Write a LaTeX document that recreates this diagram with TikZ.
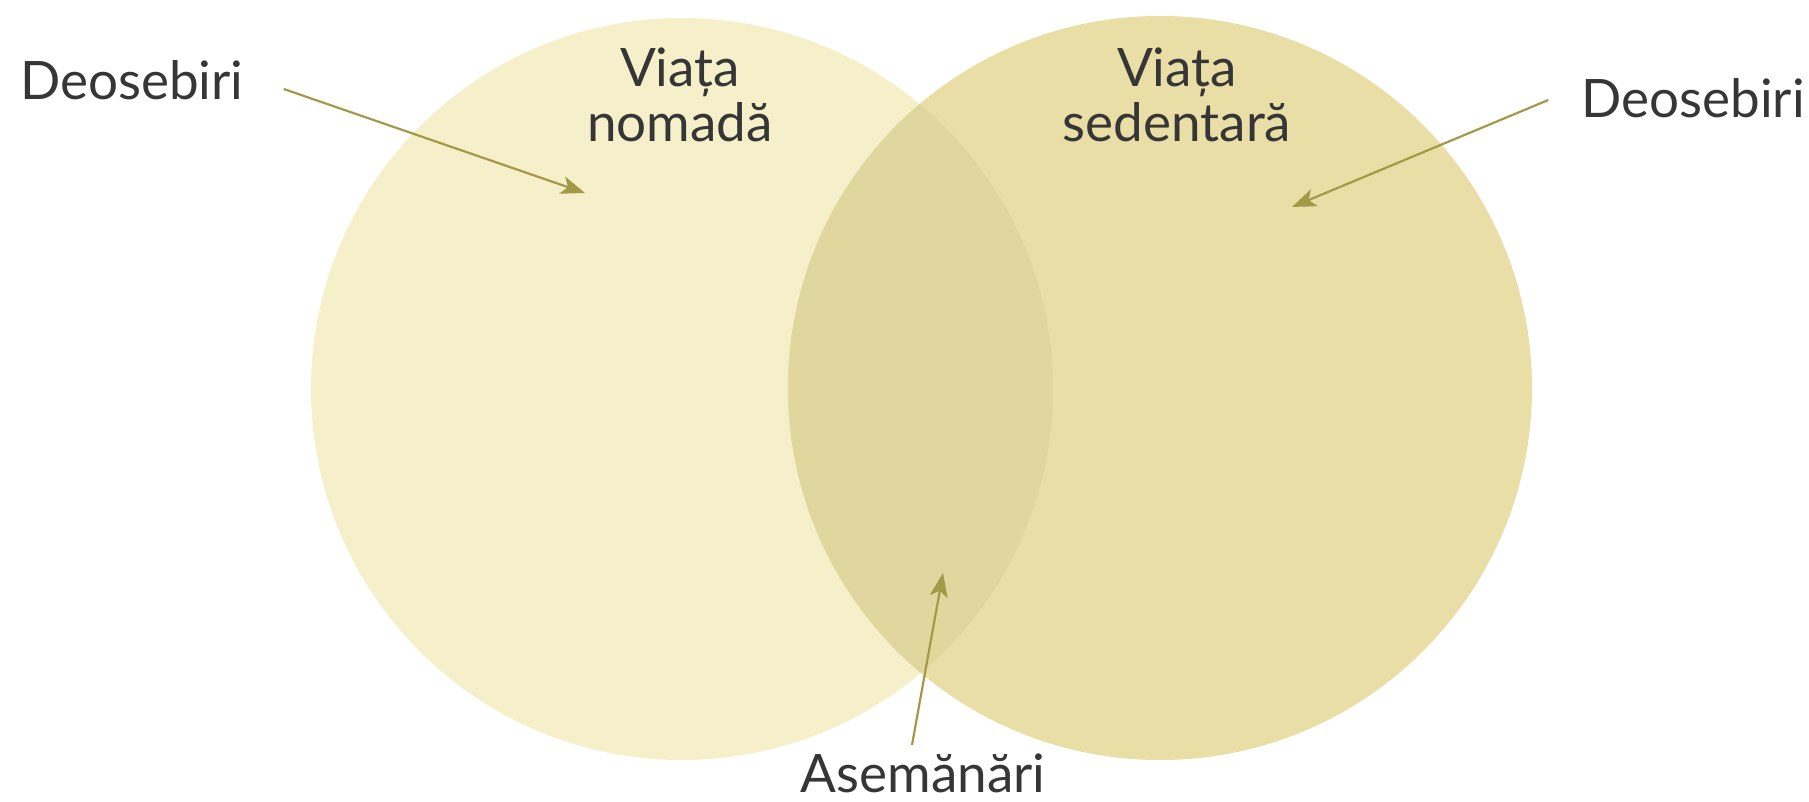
\documentclass[tikz,border=0pt]{standalone}
\usepackage{fontspec}
\setmainfont{Lato}
\usetikzlibrary{arrows.meta}
\definecolor{leftc}{HTML}{F5F0C9}
\definecolor{rightc}{HTML}{E9DEA6}
\definecolor{midc}{HTML}{E0D79E}
\definecolor{arrc}{HTML}{A39A48}
\definecolor{txtc}{HTML}{363636}
\tikzset{
  lbl/.style={text=txtc, font=\fontsize{53}{55}\selectfont, align=center, inner sep=0pt},
  ptr/.style={draw=arrc, line width=2.2pt, -{Stealth[length=24pt,width=18pt,inset=6pt]}}
}
\begin{document}
\begin{tikzpicture}[x=1pt,y=-1pt]
\useasboundingbox (0,0) rectangle (1809,802);
\fill[leftc] (682,389) circle (371);
\fill[rightc] (1160,388) circle (372);
\begin{scope}
  \clip (682,389) circle (371);
  \fill[midc] (1160,388) circle (372);
\end{scope}
\node[lbl, anchor=base] (nom) at (680,142) {Viața\\nomadă};
\node[lbl, anchor=base] (sed) at (1177,142) {Viața\\sedentară};
\node[lbl, anchor=base west] (dl) at (20,100) {Deosebiri};
\node[lbl, anchor=base east] (dr) at (1805,118) {Deosebiri};
\node[lbl, anchor=base, text depth=0pt, align=none] (as) at (923,792) {Asemănări};
\coordinate (tl) at (585,193);
\coordinate (tr) at (1292,207);
\coordinate (tm) at (943,573);
\draw[ptr] (dl.base east) ++(40,-11) -- (tl);
\draw[ptr] (dr.base west) ++(-33,-18) -- (tr);
\draw[ptr] (as.base) ++(-11,-47) -- (tm);
\end{tikzpicture}
\end{document}
